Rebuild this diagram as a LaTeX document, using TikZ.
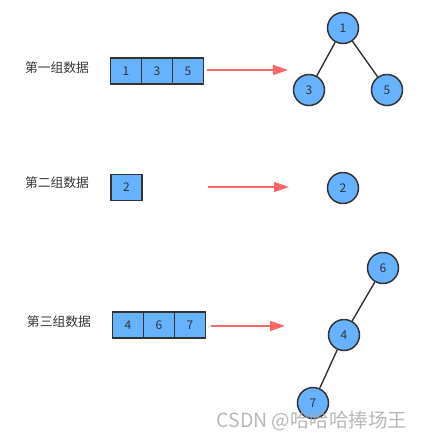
\documentclass[tikz,border=0pt]{standalone}
\usepackage{fontspec}
\setmainfont{Noto Sans CJK SC}
\usetikzlibrary{arrows.meta}

\definecolor{nodeblue}{RGB}{102,178,255}
\definecolor{edgegray}{RGB}{51,51,51}
\definecolor{arrowred}{RGB}{255,102,102}

\begin{document}
\begin{tikzpicture}[x=1pt, y=-1pt,
    main/.style = {draw=edgegray, circle, line width=1.5pt, fill=nodeblue, minimum size=31pt, inner sep=0pt, text=edgegray, font=\fontsize{12}{14}\selectfont},
    cell/.style = {draw=edgegray, line width=1.5pt, fill=nodeblue, minimum width=31pt, minimum height=26pt, inner sep=0pt, outer sep=0pt, text=edgegray, font=\fontsize{12}{14}\selectfont},
    lbl/.style = {text=edgegray, font=\fontsize{12.8}{15}\selectfont},
    arr/.style = {draw=arrowred, line width=1.4pt, -{Triangle[length=15pt, width=10pt]}},
    edge/.style = {draw=edgegray, line width=1.4pt}]
        \useasboundingbox (0,0) rectangle (423,440);

        % first group
        \node [lbl] (l1) at (57, 68) {第一组数据};
        \foreach \v [count=\i] in {1, 3, 5}
                 {
                   \node [cell] (a\i) at (126+31*\i-31, 71) {\v};
                 }
        \coordinate (s1) at (207, 70);
        \coordinate (e1) at (288, 70);
        \draw [arr] (s1) -- (e1);
        \node [main] (t1) at (343, 28) {1};
        \node [main] (t3) at (309, 90) {3};
        \node [main] (t5) at (387, 90) {5};
        \draw [edge] (t1) -- (t3);
        \draw [edge] (t1) -- (t5);

        % second group
        \node [lbl] (l2) at (57, 183) {第二组数据};
        \node [cell] (b1) at (126.5, 187.5) {2};
        \coordinate (s2) at (208, 187);
        \coordinate (e2) at (289, 187);
        \draw [arr] (s2) -- (e2);
        \node [main] (t2) at (343, 188) {2};

        % third group
        \node [lbl] (l3) at (59, 322) {第三组数据};
        \foreach \v [count=\i] in {4, 6, 7}
                 {
                   \node [cell] (c\i) at (128+31*\i-31, 325) {\v};
                 }
        \coordinate (s3) at (211, 326);
        \coordinate (e3) at (285, 326);
        \draw [arr] (s3) -- (e3);
        \node [main] (t6) at (383, 268) {6};
        \node [main] (t4) at (344, 335) {4};
        \node [main] (t7) at (313, 403) {7};
        \draw [edge] (t6) -- (t4) -- (t7);

        \node [text=gray!70, opacity=.8, font=\fontsize{19.5}{21}\selectfont] (wm) at (312, 421) {CSDN @哈哈哈捧场王};
\end{tikzpicture}
\end{document}
